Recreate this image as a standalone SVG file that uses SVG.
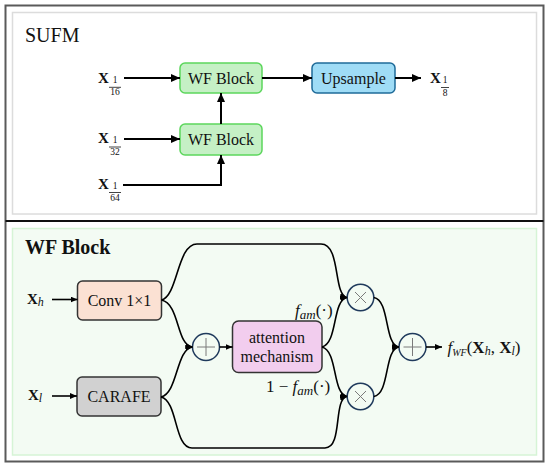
<svg xmlns="http://www.w3.org/2000/svg" width="550" height="467" viewBox="0 0 550 467" font-family="'Liberation Serif', 'DejaVu Serif', serif">
<style>
text{fill:#111}
.lbl{font-size:16px}
.bx{font-weight:bold;font-size:15px}
.fr{font-size:9.5px;text-anchor:middle}
.frl{stroke:#111;stroke-width:0.8}
.c1{fill:none;stroke:#000;stroke-width:2}
.c2{fill:none;stroke:#000;stroke-width:1.6}
.op{fill:#f3fbf3;stroke:#1f3a5c;stroke-width:1.5}
.sym{stroke:#7a7a7a;stroke-width:1;fill:none}
.math{font-style:italic}
</style>
<defs>
<marker id="a1" markerUnits="userSpaceOnUse" markerWidth="9" markerHeight="8" refX="9" refY="4" orient="auto"><path d="M0,0 L9,4 L0,8 z" fill="#000"/></marker>
<marker id="a2" markerUnits="userSpaceOnUse" markerWidth="7" markerHeight="6" refX="7" refY="3" orient="auto"><path d="M0,0 L7,3 L0,6 z" fill="#000"/></marker>
</defs>

<g id="frame">
<rect x="5.5" y="5.5" width="538" height="456" fill="#fff" stroke="#5a5a5a" stroke-width="2"/>
<rect x="12.5" y="12.5" width="524" height="201.5" fill="#fff" stroke="#dcdcdc" stroke-width="1.5"/>
<line x1="5.5" y1="221" x2="543.5" y2="221" stroke="#111" stroke-width="2"/>
<rect x="12.5" y="228.5" width="524" height="226.5" fill="#f3fbf3" stroke="#d6f4d6" stroke-width="1.5"/>
</g>

<g id="title-sufm"><text x="25" y="42" font-size="20">SUFM</text></g>
<g id="title-wf"><text x="25" y="254" font-size="20" font-weight="bold">WF Block</text></g>

<g id="in-16">
<text class="bx" x="98" y="83.3">X</text>
<text class="fr" x="115" y="83.3">1</text>
<line class="frl" x1="109" y1="87.3" x2="121" y2="87.3"/>
<text class="fr" x="115" y="95.3">16</text>
</g>
<g id="in-32">
<text class="bx" x="98" y="143">X</text>
<text class="fr" x="115" y="143">1</text>
<line class="frl" x1="109" y1="147" x2="121" y2="147"/>
<text class="fr" x="115" y="155">32</text>
</g>
<g id="in-64">
<text class="bx" x="98" y="188.5">X</text>
<text class="fr" x="115" y="188.5">1</text>
<line class="frl" x1="109" y1="192.5" x2="121" y2="192.5"/>
<text class="fr" x="115" y="200.5">64</text>
</g>
<g id="out-8">
<text class="bx" x="430" y="83.3">X</text>
<text class="fr" x="445" y="83.3">1</text>
<line class="frl" x1="441" y1="87.5" x2="449" y2="87.5"/>
<text class="fr" x="445" y="95.5">8</text>
</g>

<g id="wf1">
<rect x="180" y="63" width="82" height="30" rx="5" fill="#c5f0c5" stroke="#5cd65c" stroke-width="1.5"/>
<text class="lbl" x="221" y="83.5" text-anchor="middle">WF Block</text>
</g>
<g id="wf2">
<rect x="180" y="124" width="82" height="31" rx="5" fill="#c5f0c5" stroke="#5cd65c" stroke-width="1.5"/>
<text class="lbl" x="221" y="145" text-anchor="middle">WF Block</text>
</g>
<g id="upsample">
<rect x="312" y="63" width="83" height="30" rx="5" fill="#9fdcf6" stroke="#1f6b99" stroke-width="1.5"/>
<text class="lbl" x="353.5" y="83.5" text-anchor="middle">Upsample</text>
</g>

<g id="xh"><text class="bx" x="27" y="304">X<tspan class="math" font-weight="normal" font-size="12" dy="2">h</tspan></text></g>
<g id="xl"><text class="bx" x="28" y="400">X<tspan class="math" font-weight="normal" font-size="12" dy="2">l</tspan></text></g>

<g id="conv">
<rect x="77.5" y="281" width="84" height="39" rx="5" fill="#fbe1d3" stroke="#333" stroke-width="1.5"/>
<text class="lbl" x="119.5" y="306" text-anchor="middle">Conv 1×1</text>
</g>
<g id="carafe">
<rect x="77" y="377" width="84" height="39" rx="5" fill="#d1d1d1" stroke="#333" stroke-width="1.5"/>
<text class="lbl" x="119" y="402" text-anchor="middle">CARAFE</text>
</g>
<g id="attention">
<rect x="232.5" y="321" width="89.5" height="51.5" rx="6" fill="#f2cdee" stroke="#333" stroke-width="1.5"/>
<text class="lbl" x="277" y="343" text-anchor="middle">attention</text>
<text class="lbl" x="277" y="361.5" text-anchor="middle">mechanism</text>
</g>

<g id="add1">
<circle class="op" cx="206" cy="347" r="13.5"/>
<path class="sym" d="M197,347 H215 M206,338 V356"/>
</g>
<g id="mul1">
<circle class="op" cx="360.5" cy="297.5" r="13.3"/>
<path class="sym" d="M355,292 L366,303 M366,292 L355,303"/>
</g>
<g id="mul2">
<circle class="op" cx="360.5" cy="396.5" r="13.3"/>
<path class="sym" d="M355,391 L366,402 M366,391 L355,402"/>
</g>
<g id="add2">
<circle class="op" cx="412.5" cy="347" r="13.5"/>
<path class="sym" d="M403.5,347 H421.5 M412.5,338 V356"/>
</g>

<g id="lbl-fam">
<text x="295" y="315.5" font-size="17"><tspan class="math">f</tspan><tspan class="math" font-size="13" dy="3">am</tspan><tspan dy="-3">(·)</tspan></text>
</g>
<g id="lbl-1fam">
<text x="266" y="391.5" font-size="17">1 − <tspan class="math">f</tspan><tspan class="math" font-size="13" dy="3">am</tspan><tspan dy="-3">(·)</tspan></text>
</g>
<g id="out-fwf">
<text x="447.5" y="352.5" font-size="17"><tspan class="math">f</tspan><tspan class="math" font-size="10" dy="3">WF</tspan><tspan dy="-3">(</tspan><tspan font-weight="bold">X</tspan><tspan class="math" font-size="12" dy="2">h</tspan><tspan dy="-2">, </tspan><tspan font-weight="bold">X</tspan><tspan class="math" font-size="12" dy="2">l</tspan><tspan dy="-2">)</tspan></text>
</g>

<g id="connectors">
<line class="c1" x1="124" y1="78" x2="180" y2="78" marker-end="url(#a1)"/>
<line class="c1" x1="124" y1="139" x2="180" y2="139" marker-end="url(#a1)"/>
<path class="c1" d="M123,185 H221 V155" marker-end="url(#a1)"/>
<line class="c1" x1="221" y1="124" x2="221" y2="93" marker-end="url(#a1)"/>
<line class="c1" x1="262" y1="78" x2="312" y2="78" marker-end="url(#a1)"/>
<line class="c1" x1="395" y1="78" x2="421" y2="78" marker-end="url(#a1)"/>

<line class="c2" x1="52" y1="299.5" x2="77.5" y2="299.5" marker-end="url(#a2)"/>
<line class="c2" x1="52" y1="396" x2="77" y2="396" marker-end="url(#a2)"/>
<path class="c2" d="M161.5,300 C178,296 177,244 197,244 L321,244 C341,244 333,295 347,297.5" marker-end="url(#a2)"/>
<path class="c2" d="M161.5,300 C180,304 176,345 192.5,347" marker-end="url(#a2)"/>
<path class="c2" d="M161,397 C178,393 176,349 192.5,347" marker-end="url(#a2)"/>
<path class="c2" d="M161,397 C178,401 174,448 192,448 L325,448 C343,448 333,399 347,396.5" marker-end="url(#a2)"/>
<line class="c2" x1="219.5" y1="347" x2="232.5" y2="347" marker-end="url(#a2)"/>
<path class="c2" d="M322,347 C338,343 332,300 347.2,297.5" marker-end="url(#a2)"/>
<path class="c2" d="M322,347 C338,351 332,394 347.2,396.5" marker-end="url(#a2)"/>
<path class="c2" d="M373.8,297.5 C390,300 384,345 399,347" marker-end="url(#a2)"/>
<path class="c2" d="M373.8,396.5 C390,394 384,349 399,347" marker-end="url(#a2)"/>
<line class="c2" x1="426" y1="347" x2="442" y2="347" marker-end="url(#a2)"/>
</g>
</svg>
